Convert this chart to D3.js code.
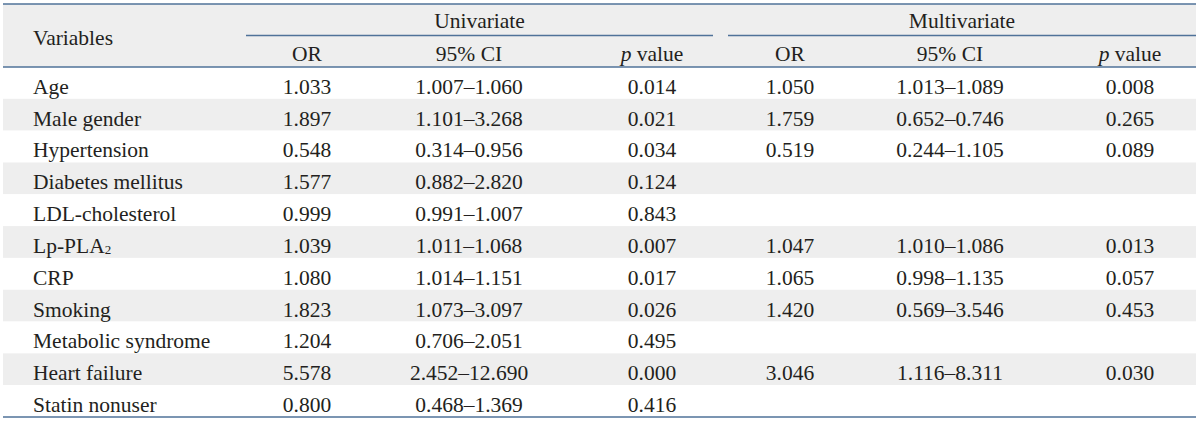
<!DOCTYPE html>
<html><head><meta charset="utf-8">
<script src="https://cdn.jsdelivr.net/npm/d3@7"></script>
<style>html,body{margin:0;padding:0;background:#fff;}svg{display:block;}</style>
</head><body>
<svg id="c" width="1200" height="422"></svg>
<script>
const variables = ["Age","Male gender","Hypertension","Diabetes mellitus","LDL-cholesterol","Lp-PLA2","CRP","Smoking","Metabolic syndrome","Heart failure","Statin nonuser"];
const uniOR = ["1.033","1.897","0.548","1.577","0.999","1.039","1.080","1.823","1.204","5.578","0.800"];
const uniCI = ["1.007–1.060","1.101–3.268","0.314–0.956","0.882–2.820","0.991–1.007","1.011–1.068","1.014–1.151","1.073–3.097","0.706–2.051","2.452–12.690","0.468–1.369"];
const uniP = ["0.014","0.021","0.034","0.124","0.843","0.007","0.017","0.026","0.495","0.000","0.416"];
const multiOR = ["1.050","1.759","0.519","","","1.047","1.065","1.420","","3.046",""];
const multiCI = ["1.013–1.089","0.652–0.746","0.244–1.105","","","1.010–1.086","0.998–1.135","0.569–3.546","","1.116–8.311",""];
const multiP = ["0.008","0.265","0.089","","","0.013","0.057","0.453","","0.030",""];
const groups = ["Univariate","Multivariate"];
const subHeaders = ["OR","95% CI","p value"];

(function(){
const svg = d3.select("#c");
const L = 3, R = 1196, tTop = 4, hMid = 35.5, hBot = 67, tBottom = 417;
const lineColor = "#4f7299", gray = "#eeeeee", txt = "#231f20";
const font = "'Liberation Serif','Times New Roman',serif";
const fs = 21.5;

const y = d3.scaleBand().domain(d3.range(variables.length)).range([hBot, tBottom]);
const colX = d3.scaleOrdinal().domain(["uOR","uCI","uP","mOR","mCI","mP"]).range([307,469,652,790,950,1130]);
const groupSpan = {Univariate:[246,713], Multivariate:[728,R]};

svg.append("rect").attr("x",L).attr("y",tTop).attr("width",R-L).attr("height",hBot-tTop).attr("fill",gray);
svg.selectAll("rect.row").data(d3.range(variables.length)).join("rect")
  .attr("class","row").attr("x",L).attr("width",R-L)
  .attr("y",d=>y(d)).attr("height",y.bandwidth())
  .attr("fill",d=>d%2===1?gray:"#fff");

const line = (x1,x2,yy,w)=>svg.append("line").attr("x1",x1).attr("x2",x2).attr("y1",yy).attr("y2",yy)
  .attr("stroke",lineColor).attr("stroke-width",w);
line(L,R,tTop,1.6);
line(L,R,hBot,1.6);
line(L,R,tBottom,1.6);
groups.forEach(g=>line(groupSpan[g][0],groupSpan[g][1],hMid,1.6));

const T = (x,yy,s,anchor)=>svg.append("text").attr("x",x).attr("y",yy).attr("text-anchor",anchor||"middle")
  .attr("font-family",font).attr("font-size",fs).attr("fill",txt).text(s);

T(33,45,"Variables","start");
groups.forEach(g=>T((groupSpan[g][0]+groupSpan[g][1])/2,28,g));
const subKeys = [["uOR","uCI","uP"],["mOR","mCI","mP"]];
subKeys.forEach(keys=>keys.forEach((k,i)=>{
  const t = T(colX(k),61,"");
  if(subHeaders[i].startsWith("p ")){
    t.append("tspan").attr("font-style","italic").text("p");
    t.append("tspan").text(subHeaders[i].slice(1));
  } else t.text(subHeaders[i]);
}));

const cols = [["uOR",uniOR],["uCI",uniCI],["uP",uniP],["mOR",multiOR],["mCI",multiCI],["mP",multiP]];
variables.forEach((v,i)=>{
  const by = y(i)+y.bandwidth()-5;
  const t = T(33,by,"","start");
  const m = v.match(/^(Lp-PLA)(2)$/);
  if(m){ t.append("tspan").text(m[1]); t.append("tspan").attr("font-size",13).attr("dy",1).text(m[2]); }
  else t.text(v);
  cols.forEach(([k,arr])=>{ if(arr[i]) T(colX(k),by,arr[i]); });
});
})();
</script>
</body></html>
